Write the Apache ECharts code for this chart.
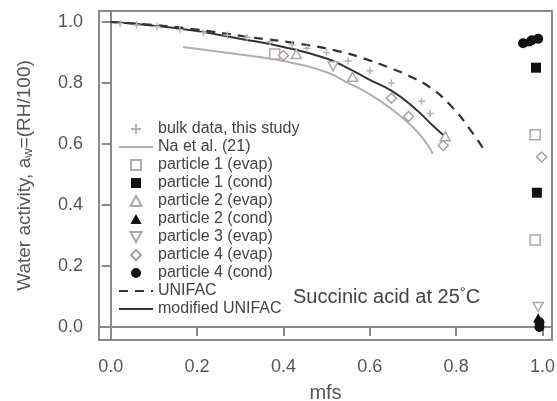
<!DOCTYPE html>
<html><head><meta charset="utf-8">
<script src="https://cdn.jsdelivr.net/npm/echarts@6/dist/echarts.min.js"></script>
<style>html,body{margin:0;padding:0;background:#fff}#c{width:557px;height:401px}</style>
</head><body><div id="c"></div>
<script>
const xTicks = [0, 0.2, 0.4, 0.6, 0.8, 1.0];
const yTicks = [0, 0.2, 0.4, 0.6, 0.8, 1.0];

const bulkData = [[0.022,0.995],[0.06,0.99],[0.107,0.985],[0.16,0.975],[0.214,0.965],[0.27,0.957],[0.316,0.95],[0.369,0.935],[0.42,0.925],[0.454,0.914],[0.5,0.9],[0.55,0.872],[0.6,0.84],[0.65,0.8],[0.72,0.74],[0.74,0.7]];
const naEtAl = [[0.168,0.918],[0.3,0.893],[0.4,0.872],[0.5,0.835],[0.55,0.8],[0.6,0.763],[0.65,0.715],[0.7,0.655],[0.73,0.605],[0.746,0.568]];
const p1Evap = [[0.38,0.895],[0.983,0.63],[0.983,0.285]];
const p1Cond = [[0.985,0.85],[0.987,0.44]];
const p2Evap = [[0.43,0.895],[0.56,0.82],[0.775,0.625]];
const p2Cond = [[0.965,0.935],[0.99,0.03]];
const p3Evap = [[0.515,0.855],[0.99,0.065]];
const p4Evap = [[0.40,0.89],[0.65,0.75],[0.69,0.69],[0.77,0.595],[0.998,0.557]];
const p4Cond = [[0.955,0.93],[0.975,0.94],[0.99,0.945],[0.993,0.0],[0.993,0.015]];
const unifac = [[0,1.0],[0.1,0.99],[0.2,0.975],[0.323,0.95],[0.431,0.93],[0.531,0.903],[0.585,0.881],[0.64,0.853],[0.69,0.824],[0.74,0.785],[0.79,0.722],[0.832,0.648],[0.865,0.58]];
const modUnifac = [[0,1.0],[0.1,0.988],[0.2,0.97],[0.3,0.945],[0.4,0.918],[0.5,0.88],[0.55,0.848],[0.6,0.81],[0.65,0.775],[0.7,0.722],[0.75,0.655],[0.78,0.618]];

const CROSS = 'path://M4,0 L6,0 L6,4 L10,4 L10,6 L6,6 L6,10 L4,10 L4,6 L0,6 L0,4 L4,4 Z';
const RECT = 'path://M0,0 L10,0 L10,10 L0,10 Z';
const TRI = 'path://M5,0 L10,9 L0,9 Z';
const TRI_DOWN = 'path://M0,0 L10,0 L5,9 Z';
const DIAM = 'path://M5,0 L10,5 L5,10 L0,5 Z';
const FONT = 'Liberation Sans, Arial, sans-serif';
const chart = echarts.init(document.getElementById('c'), null, {renderer:'canvas'});
function sc(name, data, symbol, size, color, filled){
  return {type:'scatter', name, data, symbol, symbolSize:size, symbolKeepAspect:true, z:3,
    itemStyle: filled ? {color:color, opacity:1} : {color:'#fff', borderColor:color, borderWidth:1.5, opacity:1}};
}
const hideSym = {opacity:0};
chart.setOption({
  animation:false,
  grid:{left:99, right:5, top:11, bottom:61, outerBoundsMode:'none', containLabel:false, show:true, borderColor:'#8a8a8a', borderWidth:2, backgroundColor:'transparent'},
  xAxis:{type:'value', min:-0.027, max:1.022, name:'mfs', nameLocation:'middle', nameGap:43,
    nameTextStyle:{fontFamily:FONT, fontSize:20, color:'#555'},
    splitLine:{show:false},
    axisLine:{show:true, lineStyle:{color:'#8a8a8a', width:2}},
    axisTick:{show:true, inside:false, length:9, lineStyle:{color:'#8a8a8a', width:2}, customValues:xTicks},
    axisLabel:{margin:18, fontFamily:FONT, fontSize:18, color:'#555', customValues:xTicks, formatter:v=>v.toFixed(1)}},
  yAxis:{type:'value', min:-0.043, max:1.036, name:'Water activity, a{sub|w}=(RH/100)', nameLocation:'middle', nameGap:64, nameRotate:90,
    nameTextStyle:{fontFamily:FONT, fontSize:19, color:'#555', rich:{sub:{fontFamily:FONT, fontSize:13, color:'#555', verticalAlign:'bottom', padding:[7,0,0,0]}}},
    splitLine:{show:false},
    axisLine:{show:true, lineStyle:{color:'#8a8a8a', width:2}},
    axisTick:{show:true, inside:false, length:9, lineStyle:{color:'#8a8a8a', width:2}, customValues:yTicks},
    axisLabel:{margin:16, fontFamily:FONT, fontSize:18, color:'#555', customValues:yTicks, formatter:v=>v.toFixed(1)}},
  legend:{orient:'vertical', left:113, top:116, itemWidth:34, itemHeight:10, itemGap:2, symbolKeepAspect:true,
    textStyle:{fontFamily:FONT, fontSize:16, lineHeight:15, color:'#444'},
    data:['bulk data, this study',{name:'Na et al. (21)', itemStyle:hideSym},'particle 1 (evap)','particle 1 (cond)','particle 2 (evap)','particle 2 (cond)','particle 3 (evap)','particle 4 (evap)','particle 4 (cond)',{name:'UNIFAC', itemStyle:hideSym},{name:'modified UNIFAC', itemStyle:hideSym}]},
  graphic:[{type:'text', left:293, top:285, style:{text:'Succinic acid at 25{sup|°}C', fontFamily:FONT, fontSize:20, fill:'#444',
    rich:{sup:{fontFamily:FONT, fontSize:15, fill:'#444', verticalAlign:'top', padding:[0,0,9,0]}}}}],
  series:[
    sc('bulk data, this study', bulkData, CROSS, 7, '#c4aab2', true),
    {type:'line', name:'Na et al. (21)', data:naEtAl, smooth:true, symbol:'none', z:2, lineStyle:{color:'#bbaaaa', width:2}, itemStyle:{color:'#bbaaaa'}},
    sc('particle 1 (evap)', p1Evap, RECT, 10, '#b0a8a8', false),
    sc('particle 1 (cond)', p1Cond, RECT, 10, '#111', true),
    sc('particle 2 (evap)', p2Evap, TRI, 10, '#aaa', false),
    sc('particle 2 (cond)', p2Cond, TRI, 10, '#111', true),
    sc('particle 3 (evap)', p3Evap, TRI_DOWN, 10, '#aaa', false),
    sc('particle 4 (evap)', p4Evap, DIAM, 10, '#a8a0a0', false),
    sc('particle 4 (cond)', p4Cond, 'circle', 10, '#111', true),
    {type:'line', name:'UNIFAC', data:unifac, smooth:true, symbol:'none', z:2, lineStyle:{color:'#333', width:2.2, type:[9,7]}, itemStyle:{color:'#333'}},
    {type:'line', name:'modified UNIFAC', data:modUnifac, smooth:true, symbol:'none', z:2, lineStyle:{color:'#333', width:2}, itemStyle:{color:'#333'}}
  ]
});
</script></body></html>
